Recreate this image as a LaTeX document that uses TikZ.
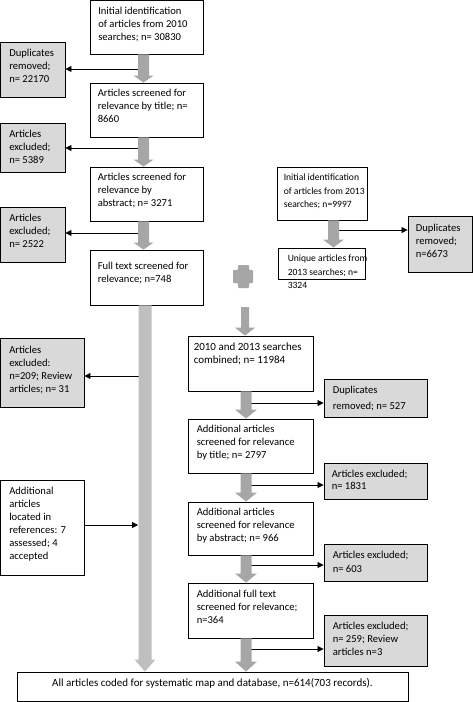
\documentclass[tikz,border=0pt]{standalone}
\usepackage{fontspec}
\setmainfont{Carlito}
\usetikzlibrary{arrows.meta,fit,calc}
\definecolor{boxgray}{HTML}{D9D9D9}
\definecolor{arrgray}{HTML}{A6A6A6}
\definecolor{bargray}{HTML}{BFBFBF}
\newcommand\fl[1]{\rule{0pt}{#1pt}}
% gray block arrow: from, to, half shaft, half head, head length, colour
\newcommand\garrow[6]{%
  \fill[#6] let \p1=(#1), \p2=(#2) in
    (\x1-#3,\y1) -- (\x1+#3,\y1) -- (\x1+#3,\y2+#5) -- (\x1+#4,\y2+#5) --
    (\x1,\y2) -- (\x1-#4,\y2+#5) -- (\x1-#3,\y2+#5) -- cycle;}
\begin{document}
\begin{tikzpicture}[x=1pt,y=-1pt,
  box/.style={draw,line width=0.9pt,fill=white,inner sep=0pt},
  gbox/.style={box,fill=boxgray},
  txt/.style={inner sep=0pt,anchor=north west,align=left,font=\fontsize{10.6}{13}\selectfont},
  stxt/.style={txt,font=\fontsize{9.6}{13.5}\selectfont},
  conn/.style={line width=0.8pt,-{Triangle[length=6pt,width=6pt]}}]
\useasboundingbox (0,0) rectangle (473,702);

% ---------- boxes ----------
\node[box,  fit={(90,0.5) (203,54)}] (b1) {};
\node[gbox, fit={(0.5,42) (65,97)}] (d1) {};
\node[box,  fit={(90,83) (203,137)}] (b2) {};
\node[gbox, fit={(0.5,123) (65,172)}] (e1) {};
\node[box,  fit={(90,167) (203,221)}] (b3) {};
\node[gbox, fit={(0.5,207) (65,262)}] (e2) {};
\node[box,  fit={(90,250) (203,305)}] (b4) {};
\node[box,  fit={(277,167) (367,220)}] (r1) {};
\node[gbox, fit={(408,216) (472,272)}] (dr) {};
\node[box,  fit={(278,248) (365,279)}] (r2) {};
\node[gbox, fit={(0.5,338) (84,407)}] (e209) {};
\node[box,  fit={(0.5,480) (84,575)}] (ad) {};
\node[box,  fit={(188,336) (313,391)}] (c1) {};
\node[gbox, fit={(324,379) (427,417)}] (d527) {};
\node[box,  fit={(188,419) (313,473)}] (c2) {};
\node[gbox, fit={(324,463) (427,499)}] (e1831) {};
\node[box,  fit={(188,502) (313,555)}] (c3) {};
\node[gbox, fit={(324,544) (427,581)}] (e603) {};
\node[box,  fit={(188,583) (313,638)}] (c4) {};
\node[gbox, fit={(324,615) (427,666)}] (e259) {};
\node[box,  fit={(17,672) (408,701.5)}] (fin) {};

% ---------- texts ----------
\node[txt] (tb1) at ([xshift=8.5pt]b1.north west) {\fl{14.5}Initial identification\\of articles from 2010\\searches; n= 30830};
\node[txt] (td1) at ([xshift=9pt]d1.north west) {\fl{15}Duplicates\\removed;\\n= 22170};
\node[txt] (tb2) at ([xshift=8pt]b2.north west) {\fl{14}Articles screened for\\relevance by title; n=\\8660};
\node[txt] (te1) at ([xshift=9pt]e1.north west) {\fl{15}Articles\\excluded;\\n= 5389};
\node[txt] (tb3) at ([xshift=8pt]b3.north west) {\fl{14}Articles screened for\\relevance by\\abstract; n= 3271};
\node[txt] (te2) at ([xshift=9pt]e2.north west) {\fl{15}Articles\\excluded;\\n= 2522};
\node[txt] (tb4) at ([xshift=8pt]b4.north west) {\fl{20}Full text screened for\\relevance; n=748};
\node[stxt] (tr1) at ([xshift=7pt]r1.north west) {\fl{14}Initial identification\\of articles from 2013\\searches; n=9997};
\node[txt] (tdr) at ([xshift=8pt]dr.north west) {\fl{16}Duplicates\\removed;\\n=6673};
\node[stxt] (tr2) at ([xshift=10pt]r2.north west) {\fl{14}Unique articles from\\2013 searches; n=\\3324};
\node[txt] (te209) at ([xshift=9pt]e209.north west) {\fl{16}Articles\\excluded:\\n=209; Review\\articles; n= 31};
\node[txt] (tad) at ([xshift=9pt]ad.north west) {\fl{15}Additional\\articles\\located in\\references: 7\\assessed; 4\\accepted};
\node[txt,font=\fontsize{11}{13}\selectfont] (tc1) at ([xshift=6pt]c1.north west) {\fl{15}2010 and 2013 searches\\combined; n= 11984};
\node[txt] (td527) at ([xshift=9pt]d527.north west) {\fl{15}Duplicates\\[3pt]removed; n= 527};
\node[txt] (tc2) at ([xshift=9pt]c2.north west) {\fl{14}Additional articles\\screened for relevance\\by title; n= 2797};
\node[txt] (te1831) at ([xshift=8pt]e1831.north west) {\fl{15}Articles excluded;\\[-1pt]n= 1831};
\node[txt] (tc3) at ([xshift=9pt]c3.north west) {\fl{14}Additional articles\\screened for relevance\\by abstract; n= 966};
\node[txt] (te603) at ([xshift=9pt]e603.north west) {\fl{15}Articles excluded;\\[1pt]n= 603};
\node[txt] (tc4) at ([xshift=9pt]c4.north west) {\fl{15}Additional full text\\screened for relevance;\\n=364};
\node[txt] (te259) at ([xshift=9pt]e259.north west) {\fl{15}Articles excluded;\\n= 259; Review\\articles n=3};
\node[txt,anchor=north,font=\fontsize{11}{13}\selectfont] (tfin) at (fin.north) {\fl{15}All articles coded for systematic map and database, n=614(703 records).};

% ---------- axis coordinates ----------
\coordinate (axL) at (143.5,0);
\coordinate (axB) at (145,0);
\coordinate (axR1) at (333.5,0);
\coordinate (axR) at (246,0);
\coordinate (pl) at (245,307);

% ---------- black side connectors ----------
\coordinate (j1) at (143.5,69);
\coordinate (j2) at (143.5,148);
\coordinate (j3) at (143.5,233);
\coordinate (j4) at (145,376);
\coordinate (j5) at (138,525);
\coordinate (j6) at (333.5,230);
\coordinate (j7) at (246,403);
\coordinate (j8) at (246,485);
\coordinate (j9) at (246,565);
\coordinate (j10) at (246,649);
\draw[conn] (j1) -- (j1 -| d1.east);
\draw[conn] (j2) -- (j2 -| e1.east);
\draw[conn] (j3) -- (j3 -| e2.east);
\draw[conn] (j4) -- (j4 -| e209.east);
\draw[conn] (j6) -- (j6 -| dr.west);
\draw[conn] (j7) -- (j7 -| d527.west);
\draw[conn] (j8) -- (j8 -| e1831.west);
\draw[conn] (j9) -- (j9 -| e603.west);
\draw[conn] (j10) -- (j10 -| e259.west);

% ---------- gray block arrows ----------
\garrow{axL |- b1.south}{axL |- b2.north}{5.5pt}{10pt}{7pt}{arrgray}
\garrow{axL |- b2.south}{axL |- b3.north}{5.5pt}{10pt}{7pt}{arrgray}
\garrow{axL |- b3.south}{axL |- b4.north}{5.5pt}{10pt}{7pt}{arrgray}
\garrow{axB |- b4.south}{axB |- fin.north}{6.5pt}{10.5pt}{12pt}{bargray}
\garrow{axR1 |- r1.south}{axR1 |- r2.north}{5.5pt}{10.5pt}{8pt}{arrgray}
\garrow{pl}{pl |- c1.north}{4pt}{10pt}{8pt}{arrgray}
\garrow{axR |- c1.south}{axR |- c2.north}{5.5pt}{11pt}{9pt}{arrgray}
\garrow{axR |- c2.south}{axR |- c3.north}{5.5pt}{11pt}{9pt}{arrgray}
\garrow{axR |- c3.south}{axR |- c4.north}{5.5pt}{11pt}{9pt}{arrgray}
\garrow{axR |- c4.south}{axR |- fin.north}{5.5pt}{11pt}{10pt}{arrgray}

\draw[conn] (j5 -| ad.east) -- (j5);

% ---------- plus sign ----------
\fill[arrgray, rounded corners=0.8pt] (238,265) -- (249,265) -- (249,270) -- (253,270) -- (253,283) -- (249,283) -- (249,288) -- (238,288) -- (238,283) -- (233,283) -- (233,270) -- (238,270) -- cycle;
\end{tikzpicture}
\end{document}
